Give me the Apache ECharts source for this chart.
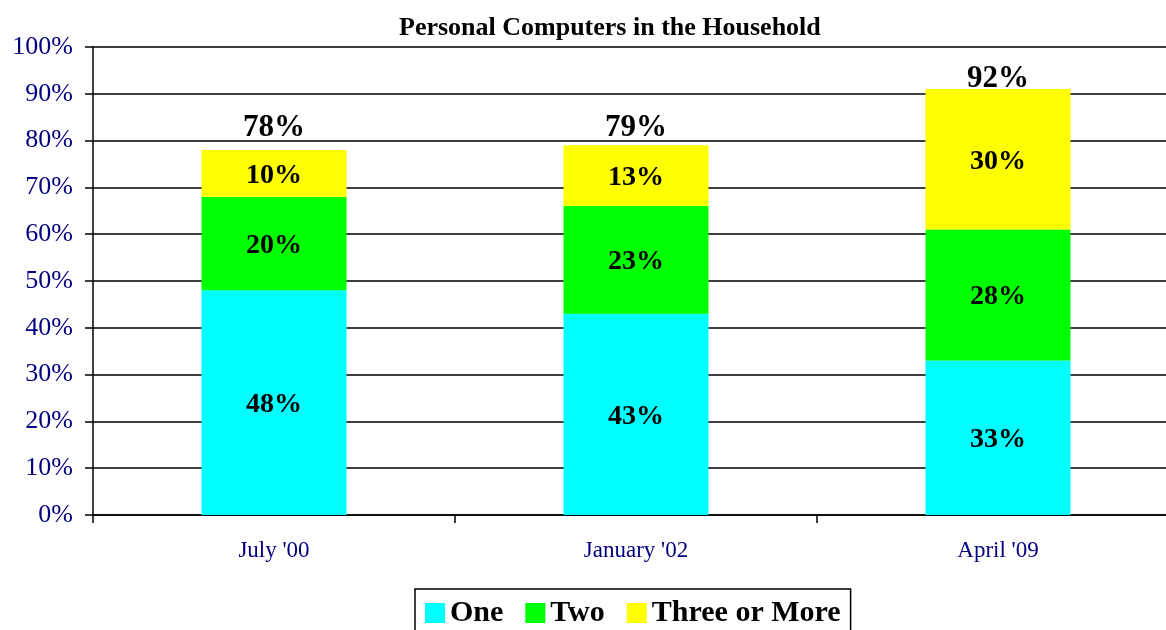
<!DOCTYPE html>
<html>
<head>
<meta charset="utf-8">
<script src="https://cdn.jsdelivr.net/npm/echarts@6/dist/echarts.min.js"></script>
<style>
html,body{margin:0;padding:0;background:#fff;}
#chart{width:1166px;height:630px;}
</style>
</head>
<body>
<div id="chart"></div>
<script>
const categories = ["July '00", "January '02", "April '09"];
const seriesNames = ["One", "Two", "Three or More"];
const oneValues = [48, 43, 33];
const twoValues = [20, 23, 28];
const threeValues = [10, 13, 30];
const totalLabels = ["78%", "79%", "92%"];
const yTicks = [0, 10, 20, 30, 40, 50, 60, 70, 80, 90, 100];

const serif = "'Liberation Serif', 'Times New Roman', serif";
const colors = ["#00FFFF", "#00FF00", "#FFFF00"];
const totalDistances = [6, 2, -5];

const chart = echarts.init(document.getElementById('chart'), null, {renderer: 'canvas'});

function segSeries(name, values, color) {
  return {
    name: name,
    type: 'bar',
    stack: 'total',
    barWidth: 145,
    data: values,
    itemStyle: {color: color},
    label: {
      show: true,
      position: 'inside',
      offset: [0, 2],
      formatter: p => p.value + '%',
      fontFamily: serif,
      fontWeight: 'bold',
      fontSize: 28,
      color: '#000'
    },
    emphasis: {disabled: true}
  };
}

const option = {
  animation: false,
  backgroundColor: '#fff',
  title: {
    text: 'Personal Computers in the Household',
    left: 394,
    top: 10,
    textStyle: {fontFamily: serif, fontWeight: 'bold', fontSize: 26, color: '#000'}
  },
  legend: {
    data: seriesNames,
    left: 415,
    top: 589,
    orient: 'horizontal',
    itemWidth: 20,
    itemHeight: 20,
    itemGap: 22,
    icon: 'rect',
    borderColor: '#000',
    borderWidth: 1.5,
    padding: [9, 10, 9, 10],
    textStyle: {fontFamily: serif, fontWeight: 'bold', fontSize: 30, color: '#000'},
    selectedMode: false
  },
  grid: {left: 93, top: 47, right: -13, bottom: 115, containLabel: false, outerBoundsMode: 'none'},
  xAxis: {
    type: 'category',
    data: categories,
    axisLine: {show: true, lineStyle: {color: '#000', width: 1.5}},
    axisTick: {show: true, length: 8, lineStyle: {color: '#000', width: 1.5}},
    axisLabel: {fontFamily: serif, fontSize: 23, color: '#000080', margin: 24},
    splitLine: {show: false}
  },
  yAxis: {
    type: 'value',
    min: yTicks[0],
    max: yTicks[yTicks.length - 1],
    interval: 10,
    axisLine: {show: true, lineStyle: {color: '#000', width: 1.5}},
    axisTick: {show: true, length: 8, lineStyle: {color: '#000', width: 1.5}},
    axisLabel: {fontFamily: serif, fontSize: 26, color: '#000080', margin: 20, padding: [3, 0, 0, 0], formatter: v => v + '%'},
    splitLine: {show: true, lineStyle: {color: '#000', width: 1.5}}
  },
  series: [
    segSeries(seriesNames[0], oneValues, colors[0]),
    segSeries(seriesNames[1], twoValues, colors[1]),
    segSeries(seriesNames[2], threeValues, colors[2]),
    {
      name: 'Total',
      type: 'bar',
      stack: 'total',
      barWidth: 145,
      data: totalLabels.map((t, i) => ({
        value: 0,
        label: {distance: totalDistances[i]}
      })),
      itemStyle: {color: 'rgba(0,0,0,0)'},
      label: {
        show: true,
        position: 'top',
        formatter: p => totalLabels[p.dataIndex],
        fontFamily: serif,
        fontWeight: 'bold',
        fontSize: 31,
        color: '#000'
      },
      emphasis: {disabled: true}
    }
  ]
};

chart.setOption(option);
</script>
</body>
</html>
